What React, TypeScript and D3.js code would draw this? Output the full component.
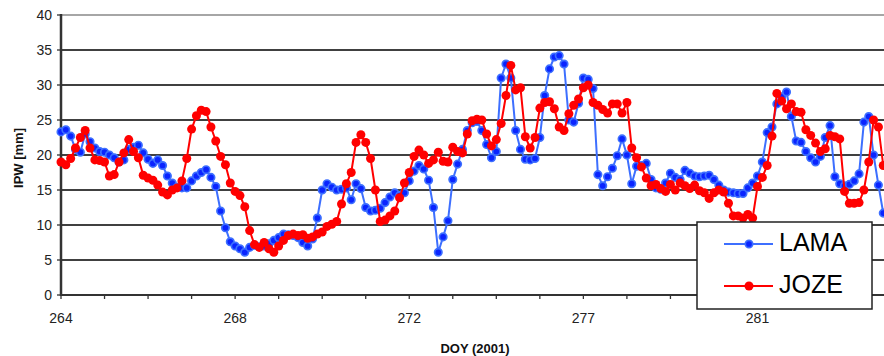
import React from "react";
import * as d3 from "d3";

const lama: number[] = [
  23.3, 23.6, 22.7, 20.8, 20.4, 23.0, 21.9, 21.0, 20.5, 20.4,
  20.0, 19.6, 19.0, 19.3, 20.8, 21.1, 21.4, 20.3, 19.4, 18.8,
  19.3, 18.5, 17.0, 16.0, 15.4, 15.3, 15.3, 16.3, 17.0, 17.5,
  17.9, 16.8, 15.5, 12.0, 9.6, 7.6, 7.0, 6.6, 6.1, 6.8,
  7.1, 6.9, 7.0, 7.3, 7.8, 8.2, 8.7, 8.6, 8.5, 8.2,
  7.5, 7.0, 8.0, 11.0, 15.0, 15.9, 15.4, 15.0, 15.1, 15.3,
  13.6, 15.9, 15.2, 12.5, 12.0, 12.1, 12.4, 13.2, 14.0, 14.6,
  14.2, 14.6, 16.3, 17.7, 18.5, 18.0, 16.4, 12.5, 6.1, 8.3,
  10.6, 16.5, 18.7, 20.8, 23.5, 24.6, 24.8, 23.5, 21.5, 19.6,
  20.5, 31.0, 33.0, 31.0, 23.5, 20.8, 19.4, 19.3, 19.5, 22.5,
  28.5, 32.3, 34.0, 34.2, 33.0, 25.0, 24.7, 27.4, 31.0, 30.8,
  29.5, 17.2, 15.6, 16.9, 18.1, 19.9, 22.3, 20.0, 15.9, 18.4,
  18.5, 18.8, 16.5, 15.3, 15.1, 16.0, 17.4, 16.8, 16.5, 17.8,
  17.4, 17.0, 16.9, 17.0, 17.1, 16.5, 15.7, 15.0, 14.7, 14.6,
  14.5, 14.5, 15.3, 16.0, 17.0, 19.0, 23.2, 24.0, 27.3, 28.3,
  29.0, 25.5, 22.0, 21.8, 20.5, 19.6, 19.0, 19.8, 22.5, 24.2,
  16.9, 15.9, 15.6, 15.8, 16.3, 17.3, 24.7, 25.5, 20.0, 15.7,
  11.7,
];

const joze: number[] = [
  19.0, 18.6, 19.5, 21.0, 22.5, 23.5, 21.0, 19.3, 19.2, 19.0,
  17.0, 17.2, 19.0, 20.3, 22.2, 20.5, 19.6, 17.1, 16.7, 16.4,
  15.7, 14.7, 14.3, 15.0, 15.3, 16.3, 19.5, 23.7, 25.6, 26.4,
  26.2, 24.0, 22.0, 19.8, 18.6, 16.0, 14.8, 14.2, 12.6, 9.2,
  7.2, 6.8, 7.5, 6.6, 6.1, 7.0, 7.8, 8.5, 8.7, 8.5,
  8.6, 8.1, 8.3, 8.7, 9.0, 9.8, 10.1, 10.5, 13.0, 15.9,
  17.5, 21.8, 22.9, 21.8, 19.5, 15.0, 10.5, 10.7, 11.3, 12.0,
  13.9, 16.0, 17.5, 19.8, 20.7, 20.0, 18.8, 19.3, 20.4, 19.1,
  19.0, 21.1, 20.5, 20.3, 23.0, 24.9, 25.1, 25.0, 23.0, 21.3,
  22.2, 24.5, 28.5, 32.8, 29.3, 29.6, 22.6, 21.0, 22.5, 26.7,
  27.5, 27.6, 26.6, 24.0, 23.5, 25.9, 27.1, 28.0, 29.6, 30.0,
  27.5, 27.1, 26.5, 26.0, 27.3, 27.3, 26.0, 27.5, 21.0, 19.6,
  18.3, 16.7, 15.6, 15.8, 15.2, 14.8, 15.8, 15.0, 16.0, 15.6,
  15.2, 15.7, 14.9, 14.6, 13.8, 14.6, 15.0, 14.7, 13.1, 11.3,
  11.3, 11.0, 11.5, 11.0, 15.5, 16.8, 18.5, 22.7, 28.8, 27.7,
  26.6, 27.3, 26.2, 26.1, 23.6, 22.8, 21.7, 20.5, 20.9, 22.8,
  22.6, 22.3, 14.8, 13.1, 13.1, 13.2, 15.0, 19.0, 25.0, 24.0,
  18.5,
];

const xTickLabels: string[] = ["264", "268", "272", "277", "281"];
const yTicks: number[] = [0, 5, 10, 15, 20, 25, 30, 35, 40];
const seriesNames: string[] = ["LAMA", "JOZE"];

const W = 884;
const H = 356;
const pointsPerTick = 9;
const ticksPerLabel = 4;

export default function App() {
  const x = d3.scaleLinear().domain([0, 144]).range([61, 757.5]);
  const y = d3.scaleLinear().domain([0, 40]).range([295, 15]);
  const line = d3
    .line<number>()
    .x((_, i) => x(i))
    .y((d) => y(d));

  const tickIdx = d3.range(0, 171, pointsPerTick);
  const font = "Arial, 'Liberation Sans', sans-serif";

  const blueLine = "#3d6fff";
  const blueFill = "#0a24ff";
  const red = "#ff0000";
  const rb = 3.7;
  const rr = 4.5;

  return (
    <svg
      width={W}
      height={H}
      style={{ position: "absolute", left: 0, top: 0, background: "#fff" }}
      fontFamily={font}
    >
      <defs>
        <clipPath id="plotclip">
          <rect x={0} y={0} width={W} height={300} />
        </clipPath>
      </defs>
      {yTicks
        .filter((t) => t > 0 && t < 40)
        .map((t) => (
          <line key={t} x1={61} x2={W} y1={y(t)} y2={y(t)} stroke="#000" strokeWidth={1.3} />
        ))}
      <line x1={61} x2={W} y1={y(40)} y2={y(40)} stroke="#a6a6a6" strokeWidth={2} />
      {yTicks.map((t) => (
        <g key={t}>
          <line x1={57} x2={61} y1={y(t)} y2={y(t)} stroke="#333" strokeWidth={1.3} />
          <text x={52} y={y(t)} dy="0.36em" textAnchor="end" fontSize={14} fill="#222">
            {t}
          </text>
        </g>
      ))}
      <line x1={61} x2={W} y1={y(0)} y2={y(0)} stroke="#333" strokeWidth={2} />
      {tickIdx.map((i) => (
        <line key={i} x1={x(i)} x2={x(i)} y1={y(0)} y2={y(0) + 4} stroke="#333" strokeWidth={1.3} />
      ))}
      {xTickLabels.map((l, k) => (
        <text
          key={l}
          x={x(k * pointsPerTick * ticksPerLabel)}
          y={323}
          textAnchor="middle"
          fontSize={14}
          fill="#222"
        >
          {l}
        </text>
      ))}
      <line x1={61} x2={61} y1={y(40) - 1} y2={y(0) + 1} stroke="#333" strokeWidth={2.5} />
      <g clipPath="url(#plotclip)">
        <path d={line(lama) || ""} fill="none" stroke={blueLine} strokeWidth={2} />
        {lama.map((d, i) => (
          <circle key={"b" + i} cx={x(i)} cy={y(d)} r={rb} fill={blueFill} stroke={blueLine} strokeWidth={1.7} />
        ))}
        <path d={line(joze) || ""} fill="none" stroke={red} strokeWidth={2} />
        {joze.map((d, i) => (
          <circle key={"r" + i} cx={x(i)} cy={y(d)} r={rr} fill={red} />
        ))}
      </g>
      <text x={475} y={353} textAnchor="middle" fontSize={13} fontWeight="bold" fill="#111">
        DOY (2001)
      </text>
      <text
        transform={`translate(23,158) rotate(-90)`}
        textAnchor="middle"
        fontSize={13}
        fontWeight="bold"
        fill="#111"
      >
        IPW [mm]
      </text>
      <rect x={697} y={222} width={175} height={87} fill="#fff" stroke="#222" strokeWidth={1.5} />
      {seriesNames.map((n, k) => {
        const ly = 244 + k * 42;
        const isBlue = k === 0;
        return (
          <g key={n}>
            <line x1={724} x2={773} y1={ly} y2={ly} stroke={isBlue ? blueLine : red} strokeWidth={2} />
            {isBlue ? (
              <circle cx={749} cy={ly} r={rb} fill={blueFill} stroke={blueLine} strokeWidth={1.7} />
            ) : (
              <circle cx={749} cy={ly} r={rr} fill={red} />
            )}
            <text x={779} y={ly + 6.5} fontSize={25} fill="#000">
              {n}
            </text>
          </g>
        );
      })}
    </svg>
  );
}
